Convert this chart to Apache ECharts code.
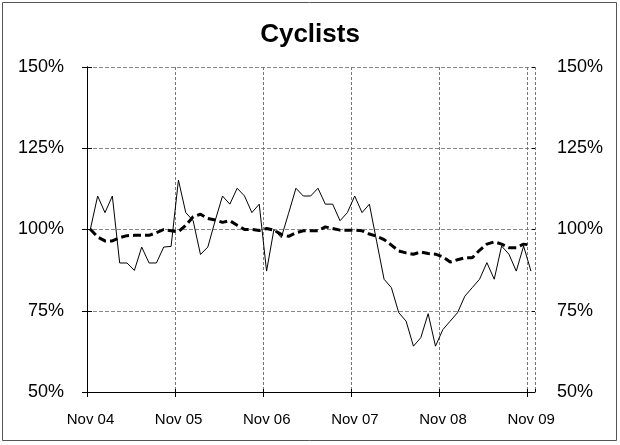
<!DOCTYPE html>
<html>
<head>
<meta charset="utf-8">
<script src="https://cdn.jsdelivr.net/npm/echarts@6/dist/echarts.min.js"></script>
<style>
  html, body { margin: 0; padding: 0; background: #fff; }
  #chart-container { width: 620px; height: 445px; }
</style>
</head>
<body>
<div id="chart-container"></div>
<script>
// monthly index, Nov 04 .. Nov 09 (percent of base)
var monthly = [
  100, 110.3, 105.2, 110.3, 89.7, 89.7, 87.4, 94.6, 89.7, 89.7, 94.6, 94.8,
  115.2, 105.2, 102.7, 92.3, 94.6, 102.7, 110.3, 107.8, 112.7, 110.3, 105.2, 107.8,
  87.2, 100, 97.5, 105, 112.7, 110.3, 110.3, 112.7, 107.8, 107.8, 102.7, 105.2,
  110.3, 105.2, 107.8, 96.2, 84.7, 82.1, 74.4, 71.8, 64.1, 66.7, 74.1, 64.1,
  69.2, 71.8, 74.4, 79.5, 82.1, 84.7, 89.8, 84.7, 94.9, 92.4, 87.2, 94.9,
  87.2
];
// rolling average
var average = [
  100.1, 97.7, 96.5, 96.5, 97.5, 98.1, 98.2, 98.2, 98.2, 99.0, 100, 99.6,
  99.3, 101.3, 103.9, 104.7, 103.4, 102.9, 102.2, 102.7, 101.3, 100, 100, 99.7,
  100.3, 99.8, 98.5, 97.9, 99.0, 99.6, 99.6, 99.6, 100.8, 100.3, 99.8, 99.8,
  99.8, 99.6, 98.6, 97.9, 96.9, 95.2, 93.4, 92.8, 92.4, 93.1, 92.6, 92.4,
  91.6, 90.0, 90.7, 91.3, 91.3, 93.6, 95.5, 96.2, 95.5, 94.4, 94.4, 95.5,
  95.2
];
var yearLabels = ['Nov 04', 'Nov 05', 'Nov 06', 'Nov 07', 'Nov 08', 'Nov 09'];

// months counted from 1 Nov 04, points sit mid-month
function toPoints(arr) {
  return arr.map(function (v, i) { return [i + 0.45, v]; });
}

var dom = document.getElementById('chart-container');
var myChart = echarts.init(dom, null, { renderer: 'canvas' });

var font = 'Liberation Sans, Arial, sans-serif';

function pct(v) { return v + '%'; }

function yAxisFor(pos, labels, inside) {
  return {
    type: 'value',
    position: pos,
    min: 50,
    max: 150,
    interval: 25,
    axisLine: { show: !inside, lineStyle: { color: '#000', width: 1 } },
    axisTick: { show: true, inside: inside, length: inside ? 3 : 5, lineStyle: { color: '#000' } },
    axisLabel: {
      show: labels,
      color: '#000', fontSize: 18, fontFamily: font,
      margin: pos === 'left' ? 23 : 22,
      formatter: pct
    },
    splitLine: {
      show: pos === 'left' && !inside,
      lineStyle: { color: '#888', type: [4, 2] }
    }
  };
}

function xAxisFor(inside) {
  return {
    type: 'value',
    position: 'bottom',
    min: 0,
    max: 61,
    interval: 12,
    axisLine: { show: !inside, onZero: false, lineStyle: { color: '#000', width: 1 } },
    axisTick: { show: true, inside: inside, length: inside ? 3 : 5, lineStyle: { color: '#000' } },
    splitLine: { show: !inside, lineStyle: { color: '#777', type: [3, 2] } },
    axisLabel: {
      show: !inside,
      color: '#000', fontSize: 15, fontFamily: font, margin: 20,
      padding: [0, 0, 0, 7],
      showMaxLabel: false,
      formatter: function (v) {
        return v % 12 === 0 ? yearLabels[v / 12] : '';
      }
    }
  };
}

var option = {
  animation: false,
  title: {
    text: 'Cyclists',
    left: 'center',
    top: 17,
    textStyle: { fontFamily: font, fontSize: 26, fontWeight: 'bold', color: '#000' }
  },
  graphic: [{
    type: 'rect',
    shape: { x: 2.5, y: 2.5, width: 614, height: 438 },
    style: { fill: 'none', stroke: '#555', lineWidth: 1 }
  }],
  grid: { left: 87, right: 85, top: 67, bottom: 53 },
  xAxis: [xAxisFor(false), xAxisFor(true)],
  yAxis: [
    yAxisFor('left', true, false),
    yAxisFor('right', true, false),
    yAxisFor('left', false, true),
    yAxisFor('right', false, true)
  ],
  series: [
    {
      name: 'Monthly',
      type: 'line',
      data: toPoints(monthly),
      symbol: 'none',
      lineStyle: { color: '#000', width: 1 }
    },
    {
      name: 'Average',
      type: 'line',
      data: toPoints(average),
      symbol: 'none',
      lineStyle: { color: '#000', width: 3, type: [8, 4] }
    }
  ]
};

myChart.setOption(option);
window.addEventListener('resize', myChart.resize);
</script>
</body>
</html>
